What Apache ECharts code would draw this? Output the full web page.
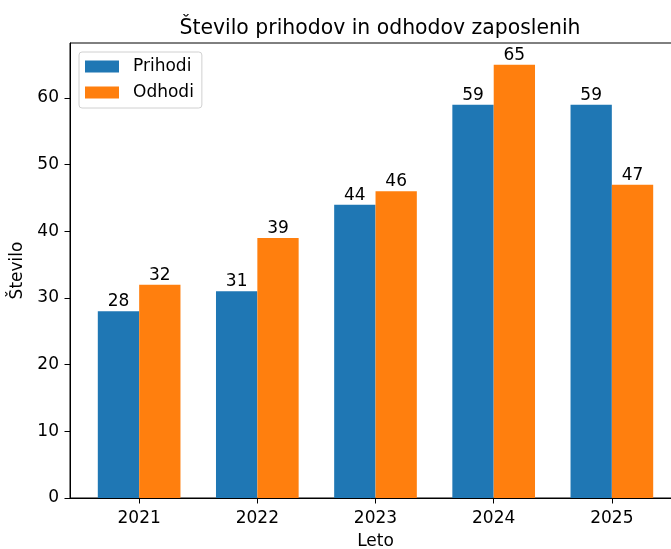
<!DOCTYPE html>
<html>
<head>
<meta charset="utf-8">
<script src="https://cdn.jsdelivr.net/npm/echarts@6/dist/echarts.min.js"></script>
<style>
  html, body { margin: 0; padding: 0; background: #fff; }
  #chart { width: 671px; height: 549px; }
</style>
</head>
<body>
<div id="chart"></div>
<script>
// podatki
var years = ["2021", "2022", "2023", "2024", "2025"];
var prihodi = [28, 31, 44, 59, 59];
var odhodi = [32, 39, 46, 65, 47];
var yTicks = [0, 10, 20, 30, 40, 50, 60];

var barW = 0.35;
var font = "DejaVu Sans";
var fs = 17;

function pairs(values, shift) {
  return values.map(function(v, i) {
    return [i + shift, v];
  });
}

var myChart = echarts.init(document.getElementById("chart"));
myChart.setOption({
  animation: false,
  textStyle: { fontFamily: font },
  title: {
    text: "Število prihodov in odhodov zaposlenih",
    left: 375,
    top: 14,
    textAlign: "center",
    textStyle: { fontFamily: font, fontSize: 20.4, fontWeight: "normal", color: "#000" }
  },
  legend: {
    orient: "vertical",
    left: 79,
    top: 52,
    padding: [6, 8, 7, 6],
    icon: "rect",
    itemWidth: 34,
    itemHeight: 12,
    itemGap: 9,
    borderColor: "#d0d0d0",
    borderWidth: 1,
    borderRadius: 3,
    backgroundColor: "rgba(255,255,255,0.8)",
    textStyle: { fontFamily: font, fontSize: fs, color: "#000", padding: [0, 0, 0, 9] },
    data: ["Prihodi", "Odhodi"]
  },
  grid: {
    left: 70,
    top: 43,
    bottom: 51,
    width: 611,
    show: true,
    borderColor: "#000",
    borderWidth: 1,
    containLabel: false,
    outerBoundsMode: "none"
  },
  xAxis: {
    type: "value",
    min: -0.585,
    max: 4.585,
    name: "Leto",
    nameLocation: "middle",
    nameGap: 35,
    nameTextStyle: { fontFamily: font, fontSize: fs, color: "#000" },
    splitLine: { show: false },
    axisLine: { show: true, onZero: false, lineStyle: { color: "#000" } },
    axisTick: { show: true, length: 5.5, lineStyle: { color: "#000" }, customValues: [0, 1, 2, 3, 4] },
    axisLabel: {
      margin: 12,
      fontSize: fs,
      color: "#000",
      customValues: [0, 1, 2, 3, 4],
      formatter: function(value) {
        return years[Math.round(value)];
      }
    }
  },
  yAxis: {
    type: "value",
    min: 0,
    max: 68.25,
    name: "Število",
    nameLocation: "middle",
    nameGap: 38,
    nameTextStyle: { fontFamily: font, fontSize: fs, color: "#000" },
    splitLine: { show: false },
    axisLine: { show: true, onZero: false, lineStyle: { color: "#000" } },
    axisTick: { show: true, length: 5.5, lineStyle: { color: "#000" }, customValues: yTicks },
    axisLabel: { margin: 11, fontSize: fs, color: "#000", customValues: yTicks }
  },
  series: [
    {
      name: "Prihodi",
      type: "bar",
      barWidth: 41.3,
      barGap: "-100%",
      itemStyle: { color: "#1f77b4" },
      label: { show: true, position: "top", distance: 1, fontSize: fs, color: "#000",
        formatter: function(p) { return p.value[1]; } },
      data: pairs(prihodi, -barW / 2)
    },
    {
      name: "Odhodi",
      type: "bar",
      barWidth: 41.3,
      barGap: "-100%",
      itemStyle: { color: "#ff7f0e" },
      label: { show: true, position: "top", distance: 1, fontSize: fs, color: "#000",
        formatter: function(p) { return p.value[1]; } },
      data: pairs(odhodi, barW / 2)
    }
  ]
});
</script>
</body>
</html>
